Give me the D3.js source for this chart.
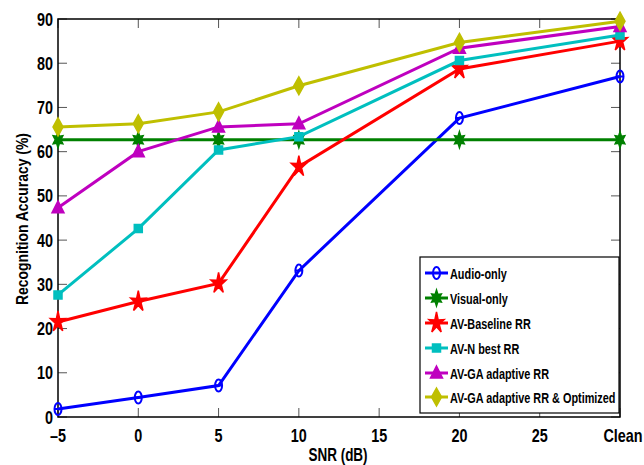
<!DOCTYPE html>
<html><head><meta charset="utf-8">
<script src="https://cdn.jsdelivr.net/npm/d3@7/dist/d3.min.js"></script>
<style>
body{margin:0;background:#fff;}
text{font-family:"Liberation Sans",Arial,sans-serif;font-weight:bold;}
</style></head><body>
<svg id="c" width="644" height="465"></svg>
<script>
const xValues = [-5, 0, 5, 10, 20, 30];
const xTicks = [-5, 0, 5, 10, 15, 20, 25, 30];
const xTickLabels = ["-5","0","5","10","15","20","25","Clean"];
const yTicks = [0,10,20,30,40,50,60,70,80,90];
const seriesNames = ["Audio-only","Visual-only","AV-Baseline RR","AV-N best RR","AV-GA adaptive RR","AV-GA adaptive RR & Optimized"];
const audioOnly = [1.8, 4.4, 7.1, 33.1, 67.6, 77.0];
const visualOnly = [62.7, 62.7, 62.7, 62.7, 62.7, 62.7];
const avBaseline = [21.5, 26.1, 30.2, 56.6, 78.7, 85.0];
const avNBest = [27.6, 42.6, 60.4, 63.4, 80.6, 86.4];
const avGA = [47.3, 60.0, 65.6, 66.3, 83.4, 88.3];
const avGAOpt = [65.6, 66.3, 69.0, 74.9, 84.7, 89.5];
const seriesValues = [audioOnly, visualOnly, avBaseline, avNBest, avGA, avGAOpt];
const colors = ["#0000ff","#008000","#ff0000","#00bfbf","#bf00bf","#bfbf00"];
const markers = ["circle","hexagram","pentagram","square","triangle","diamond"];

const svg = d3.select("#c");
const L=58,R=620,T=19,B=417;
const x = d3.scaleLinear().domain([-5,30]).range([L,R]);
const y = d3.scaleLinear().domain([0,90]).range([B,T]);

function txt(px,py,str,size,anchor,sx,rot){
  const t = svg.append("text")
    .attr("transform",`translate(${px},${py})${rot?` rotate(${rot})`:""} scale(${sx},1)`)
    .attr("text-anchor",anchor).attr("font-size",size).text(str);
  return t;
}

// ticks inward
const g = svg.append("g");
xTicks.forEach(t=>{
  g.append("line").attr("x1",x(t)).attr("x2",x(t)).attr("y1",B).attr("y2",B-9).attr("stroke","#555").attr("stroke-width",1);
  g.append("line").attr("x1",x(t)).attr("x2",x(t)).attr("y1",T).attr("y2",T+9).attr("stroke","#555").attr("stroke-width",1);
});
yTicks.forEach(t=>{
  g.append("line").attr("x1",L).attr("x2",L+9).attr("y1",y(t)).attr("y2",y(t)).attr("stroke","#555");
  g.append("line").attr("x1",R).attr("x2",R-9).attr("y1",y(t)).attr("y2",y(t)).attr("stroke","#555");
});
svg.append("rect").attr("x",L).attr("y",T).attr("width",R-L).attr("height",B-T).attr("fill","none").attr("stroke","#000").attr("stroke-width",1.5);

// tick labels
xTicks.forEach((t,i)=>{
  txt(x(t)+(i===xTicks.length-1?3:0), B+25, xTickLabels[i].replace("-","\u2013"), 18, "middle", 0.8);
});
yTicks.forEach(t=>{
  txt(L-5, y(t)+6.5, String(t), 18, "end", 0.8);
});
txt(338, 461, "SNR (dB)", 18, "middle", 0.75);
const yt = txt(28, 219, "Recognition Accuracy (%)", 16, "middle", 1, -90);
const ylen = yt.node().getComputedTextLength();
yt.attr("transform",`translate(28,219) rotate(-90) scale(${172/ylen},1)`);

function markerPath(type){
  if(type==="circle"){
    return `M${-3.5},0 a3.5,6 0 1,0 7,0 a3.5,6 0 1,0 -7,0 M-3.5,0 L3.5,0`;
  }
  if(type==="square"){ return `M-4,-4 L4,-4 L4,4 L-4,4 Z`; }
  if(type==="triangle"){ return `M0,-7 L6,5 L-6,5 Z`; }
  if(type==="diamond"){ return `M0,-9 L5,0 L0,9 L-5,0 Z`; }
  if(type==="pentagram"){
    let pts=[];
    for(let i=0;i<10;i++){const r=i%2?3.5:10; const a=-Math.PI/2+i*Math.PI/5; pts.push([r*Math.cos(a)*0.8,r*Math.sin(a)*1.1]);}
    return "M"+pts.map(q=>q.join(",")).join("L")+"Z";
  }
  if(type==="hexagram"){
    let pts=[];
    for(let i=0;i<12;i++){const r=i%2?3.5:7; const a=-Math.PI/2+i*Math.PI/6; pts.push([r*Math.cos(a)*0.8,r*Math.sin(a)*1.15]);}
    return "M"+pts.map(q=>q.join(",")).join("L")+"Z";
  }
}

const line = d3.line().x((d,i)=>x(xValues[i])).y(d=>y(d));
seriesValues.forEach((vals,si)=>{
  const c=colors[si];
  svg.append("path").datum(vals).attr("d",line).attr("fill","none").attr("stroke",c).attr("stroke-width",3);
  vals.forEach((v,i)=>{
    const m=markers[si];
    svg.append("path").attr("d",markerPath(m)).attr("transform",`translate(${x(xValues[i])},${y(v)})`)
      .attr("fill", m==="circle"?"none":c).attr("stroke",c).attr("stroke-width", m==="circle"?2:1.5);
  });
});

// legend
const lg = svg.append("g");
lg.append("rect").attr("x",420).attr("y",257).attr("width",199).attr("height",156).attr("fill","#fff").attr("stroke","#000").attr("stroke-width",1.2);
const ly=[273,298,323,348,373,397];
seriesNames.forEach((n,i)=>{
  lg.append("line").attr("x1",425).attr("x2",448).attr("y1",ly[i]).attr("y2",ly[i]).attr("stroke",colors[i]).attr("stroke-width",3);
  const m=markers[i];
  lg.append("path").attr("d",markerPath(m)).attr("transform",`translate(436.5,${ly[i]})`)
    .attr("fill", m==="circle"?"none":colors[i]).attr("stroke",colors[i]).attr("stroke-width", m==="circle"?2:1.5);
  lg.append("text").attr("transform",`translate(450,${ly[i]+5.5}) scale(0.725,1)`).attr("font-size",15).text(n);
});
</script></body></html>
